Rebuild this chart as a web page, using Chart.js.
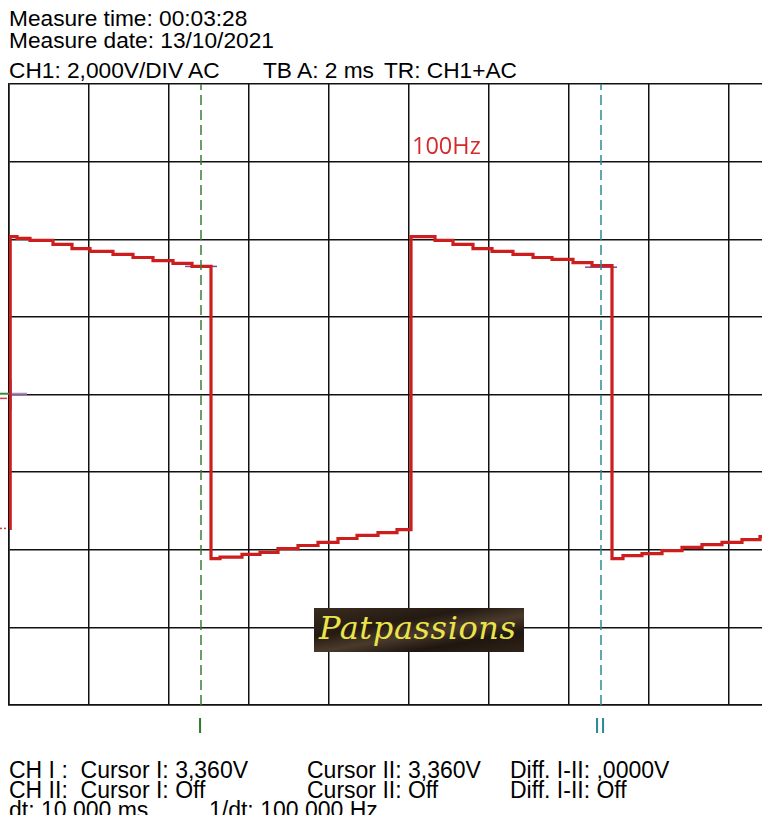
<!DOCTYPE html>
<html>
<head>
<meta charset="utf-8">
<script src="https://cdn.jsdelivr.net/npm/chart.js@4.4.1/dist/chart.umd.min.js"></script>
<style>
  html, body { margin: 0; padding: 0; overflow: hidden; background: #fff; width: 762px; height: 815px; }
  .txt { position: absolute; font-family: "Liberation Sans", Arial, sans-serif; color: #000; white-space: pre; line-height: 1; }
  .hdr { font-size: 22.7px; }
  .ftr { font-family: "Liberation Sans Narrow", "Liberation Sans", sans-serif; font-size: 23px; }
  #plot { position: absolute; left: 0; top: 0; width: 820px; height: 720px; }
  #freq { position: absolute; left: 412px; top: 129px; font-family: "Open Sans", "Noto Sans", sans-serif; font-size: 23.5px; color: #d42a2a; }
  #wm { position: absolute; left: 314px; top: 608px; width: 210px; height: 44px;
        background: linear-gradient(170deg, #3a2c20 0%, #241a12 35%, #4a3a2c 55%, #1e1610 75%, #302418 100%); }
  #wm span { position: absolute; left: 5px; top: 1px; font-family: "DejaVu Serif", serif; font-style: italic;
             font-size: 32px; color: #eae44a; letter-spacing: 0.6px; }
  .cur { position: absolute; top: 713px; font-family: "Liberation Sans Narrow", "Liberation Sans", sans-serif; font-size: 22px; }
</style>
</head>
<body>
<div class="txt hdr" style="left:9px; top:7px;">Measure time: 00:03:28</div>
<div class="txt hdr" style="left:9px; top:29px;">Measure date: 13/10/2021</div>
<div class="txt hdr" style="left:9px; top:59px;">CH1: 2,000V/DIV AC</div>
<div class="txt hdr" style="left:263px; top:59px;">TB A: 2 ms</div>
<div class="txt hdr" style="left:384px; top:59px;">TR: CH1+AC</div>

<div id="plot"><canvas id="scope"></canvas></div>

<div id="freq">100Hz</div>
<div id="wm"><span>Patpassions</span></div>
<div class="cur" style="left:197px; color:#2f7a2f;">I</div>
<div class="cur" style="left:594px; color:#2e8a96;">II</div>

<div class="txt ftr" style="left:9px; top:759px;">CH I :  Cursor I: 3,360V</div>
<div class="txt ftr" style="left:307px; top:759px;">Cursor II: 3,360V</div>
<div class="txt ftr" style="left:510px; top:759px;">Diff. I-II: ,0000V</div>
<div class="txt ftr" style="left:9px; top:779px;">CH II:  Cursor I: Off</div>
<div class="txt ftr" style="left:307px; top:779px;">Cursor II: Off</div>
<div class="txt ftr" style="left:510px; top:779px;">Diff. I-II: Off</div>
<div class="txt ftr" style="left:9px; top:799px;">dt: 10,000 ms</div>
<div class="txt ftr" style="left:209px; top:799px;">1/dt: 100,000 Hz</div>

<script>
// Trace: time in ms, level in volts (2 V/div, 2 ms/div)
const traceTimes = [0.02, 0.03, 0.2, 0.525, 1.1, 1.575, 2.025, 2.6, 3.1, 3.6, 4.1, 4.575,
  5.05, 5.275, 5.825, 6.275, 6.725, 7.225, 7.725, 8.225, 8.7, 9.225, 9.7,
  10.05, 10.65, 11.1, 11.6, 12.075, 12.6, 13.1, 13.575, 14.1, 14.575,
  15.075, 15.35, 15.825, 16.325, 16.825, 17.325, 17.825, 18.325, 18.775, 19.5];
const traceVolts = [-3.45, 4.07, 4.02, 3.97, 3.87, 3.76, 3.69, 3.61, 3.53, 3.45, 3.38, 3.30,
  -4.23, -4.19, -4.12, -4.07, -3.97, -3.89, -3.81, -3.71, -3.63, -3.56, -3.48,
  4.07, 3.97, 3.87, 3.76, 3.69, 3.61, 3.53, 3.48, 3.40, 3.32,
  -4.23, -4.15, -4.10, -4.02, -3.94, -3.87, -3.81, -3.74, -3.66, -3.66];

// Cursor positions
const cursorTimes = [4.8, 14.8];
const cursorLevels = [3.30, 3.28];
const cursorColors = ["#3b7d3b", "#2e8a96"];

// Screen grid: 10 x 8 divisions
const timeMin = 0, timeMax = 20, timeDiv = 2;
const voltMin = -8, voltMax = 8, voltDiv = 2;

const pts = (xs, ys) => xs.map((x, i) => ({ x: x, y: ys[i] }));

const datasets = [];

cursorTimes.forEach((t, i) => {
  datasets.push({
    data: pts([t, t], [voltMin, voltMax]),
    borderColor: cursorColors[i], borderWidth: 1.5, borderDash: [10, 5]
  });
});

datasets.push({
  data: pts(traceTimes, traceVolts),
  borderColor: "#cc1e1c", borderWidth: 3.2, stepped: true
});

cursorTimes.forEach((t, i) => {
  datasets.push({
    data: pts([t - 0.4, t + 0.4], [cursorLevels[i], cursorLevels[i]]),
    borderColor: "#7b4a9e", borderWidth: 1.5
  });
});

// channel / trigger markers at the left edge
datasets.push({ data: pts([-0.225, 0.03], [0.02, 0.02]), borderColor: "#3b8a3b", borderWidth: 2, clip: false });
datasets.push({ data: pts([0.03, 0.45], [0.02, 0.02]), borderColor: "#b08ac8", borderWidth: 2, clip: false });
datasets.push({ data: pts([-0.225, -0.05], [-0.1, -0.1]), borderColor: "#d04040", borderWidth: 1.5, clip: false });
datasets.push({ data: pts([-0.225, -0.05], [-3.45, -3.45]), borderColor: "#d04040", borderWidth: 1.5, borderDash: [2, 2], clip: false });
datasets.push({ data: pts([0.03, 0.03], [0.39, -0.41]), borderColor: "#3a8fa8", borderWidth: 3 });

new Chart(document.getElementById("scope").getContext("2d"), {
  type: "line",
  data: { datasets: datasets },
  options: {
    responsive: true,
    maintainAspectRatio: false,
    animation: false,
    elements: { point: { radius: 0 }, line: { tension: 0 } },
    layout: { padding: { left: 9, top: 84, right: 11, bottom: 15 } },
    plugins: { legend: { display: false }, tooltip: { enabled: false } },
    scales: {
      x: {
        type: "linear", min: timeMin, max: timeMax,
        ticks: { display: false, stepSize: timeDiv },
        grid: { color: "#111", lineWidth: 1.5, drawTicks: false },
        border: { color: "#111", width: 1.5 },
        afterFit: s => { s.height = 0; }
      },
      y: {
        min: voltMin, max: voltMax,
        ticks: { display: false, stepSize: voltDiv },
        grid: { color: "#111", lineWidth: 1.5, drawTicks: false },
        border: { color: "#111", width: 1.5 },
        afterFit: s => { s.width = 0; }
      }
    }
  }
});
</script>
</body>
</html>
